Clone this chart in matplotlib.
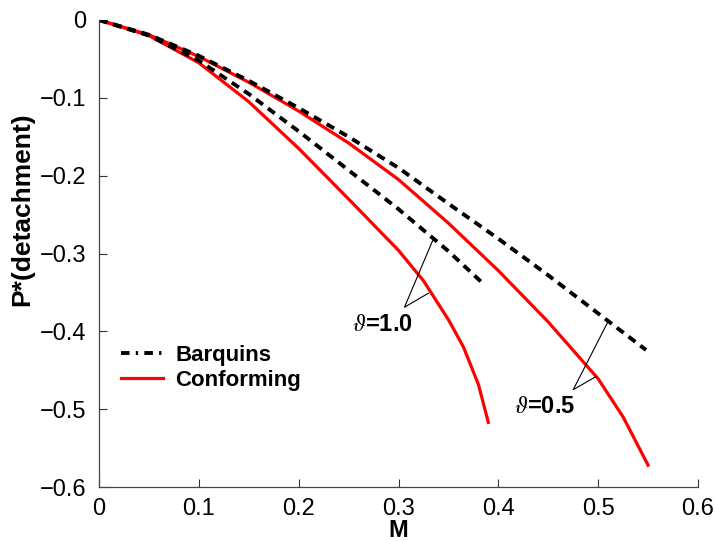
import matplotlib
matplotlib.use('Agg')
import matplotlib.pyplot as plt
from matplotlib.lines import Line2D

plt.rcParams['font.family'] = ['Liberation Sans', 'DejaVu Sans']
plt.rcParams['mathtext.fontset'] = 'stix'

# conforming contact, theta = 0.5 and 1.0
m_conf_05 = [0, 0.05, 0.1, 0.15, 0.2, 0.25, 0.3, 0.35, 0.4, 0.45, 0.5, 0.525, 0.55]
p_conf_05 = [0, -0.019, -0.047, -0.08, -0.117, -0.158, -0.205, -0.261, -0.322, -0.388, -0.461, -0.51, -0.572]
m_conf_10 = [0, 0.05, 0.1, 0.15, 0.2, 0.25, 0.3, 0.325, 0.35, 0.365, 0.38, 0.39]
p_conf_10 = [0, -0.02, -0.055, -0.105, -0.165, -0.23, -0.296, -0.335, -0.385, -0.42, -0.468, -0.517]

# Barquins
m_barq_05 = [0, 0.05, 0.1, 0.15, 0.2, 0.25, 0.3, 0.35, 0.4, 0.45, 0.5, 0.548]
p_barq_05 = [0, -0.019, -0.046, -0.078, -0.113, -0.150, -0.190, -0.236, -0.281, -0.328, -0.377, -0.424]
m_barq_10 = [0, 0.05, 0.1, 0.15, 0.2, 0.25, 0.3, 0.35, 0.385]
p_barq_10 = [0, -0.02, -0.052, -0.095, -0.143, -0.193, -0.243, -0.297, -0.339]

xticks = [0, 0.1, 0.2, 0.3, 0.4, 0.5, 0.6]
yticks = [0, -0.1, -0.2, -0.3, -0.4, -0.5, -0.6]

fig = plt.figure(figsize=(7.16, 5.41), dpi=100)
ax = fig.add_axes([99 / 716, 54 / 541, 599 / 716, 467 / 541])

red_lw = 2.3
blk_lw = 2.8
dash = (0, (2.2, 1.6))

ax.plot(m_conf_05, p_conf_05, color='red', lw=red_lw)
ax.plot(m_conf_10, p_conf_10, color='red', lw=red_lw)
ax.plot(m_barq_05, p_barq_05, color='black', lw=blk_lw, linestyle=dash)
ax.plot(m_barq_10, p_barq_10, color='black', lw=blk_lw, linestyle=dash)

# label pointers
ax.plot([0.335, 0.306, 0.330], [-0.281, -0.369, -0.351], color='black', lw=0.8)
ax.plot([0.5105, 0.475, 0.498], [-0.386, -0.475, -0.458], color='black', lw=0.8)
ax.text(0.284, -0.391, r'$\vartheta$=1.0', fontsize=17, fontweight='bold',
        ha='center', va='center')
ax.text(0.446, -0.497, r'$\vartheta$=0.5', fontsize=17, fontweight='bold',
        ha='center', va='center')

ax.set_xlim(0, 0.6)
ax.set_ylim(-0.6, 0)
ax.set_xticks(xticks)
ax.set_xticklabels(['0', '0.1', '0.2', '0.3', '0.4', '0.5', '0.6'])
ax.set_yticks(yticks)
ax.set_yticklabels(['0', '\u22120.1', '\u22120.2', '\u22120.3', '\u22120.4', '\u22120.5', '\u22120.6'])
ax.tick_params(direction='in', length=6, width=0.8, labelsize=17, color='#333333')
ax.tick_params(axis='x', pad=8)
ax.tick_params(axis='y', pad=9)
for s in ['top', 'right']:
    ax.spines[s].set_visible(False)
for s in ['left', 'bottom']:
    ax.spines[s].set_color('#444444')
    ax.spines[s].set_linewidth(0.9)

ax.set_xlabel('M', fontsize=17, fontweight='bold')
ax.set_ylabel('P*(detachment)', fontsize=19, fontweight='bold')
ax.xaxis.set_label_coords(0.5, -0.068)
ax.yaxis.set_label_coords(-0.108, 0.595)

handles = [Line2D([], [], color='black', lw=blk_lw, linestyle=(0, (2.2, 1.6, 0.6, 1.6))),
           Line2D([], [], color='red', lw=red_lw)]
fig.legend(handles, ['Barquins', 'Conforming'], loc='center left',
           bbox_to_anchor=(0.169, 0.32), frameon=False,
           prop={'weight': 'bold', 'size': 16}, handlelength=1.9,
           handletextpad=0.55, labelspacing=0.2, borderpad=0, borderaxespad=0)

fig.savefig('out.png', dpi=100)
